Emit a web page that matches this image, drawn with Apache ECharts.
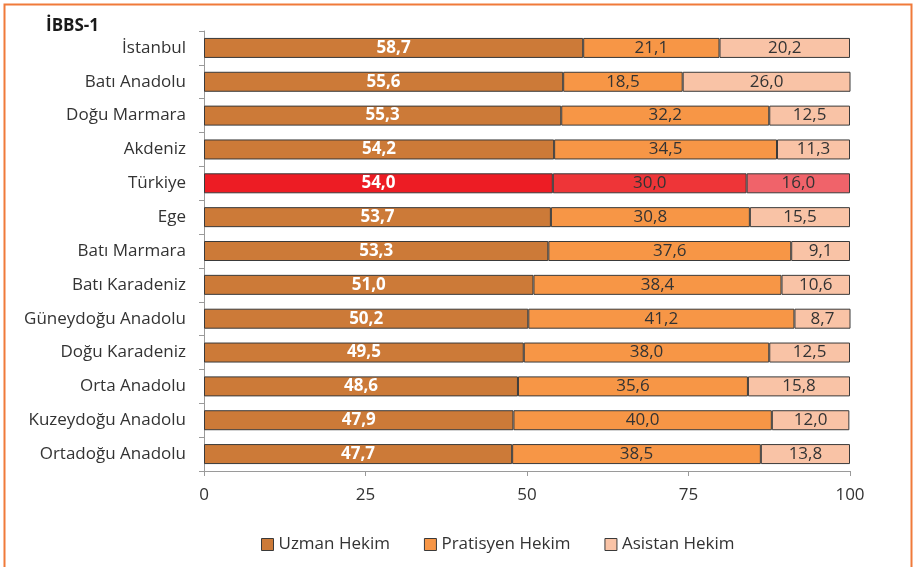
<!DOCTYPE html>
<html>
<head>
<meta charset="utf-8">
<script src="https://cdn.jsdelivr.net/npm/echarts@6/dist/echarts.min.js"></script>
<style>
  html, body { margin: 0; padding: 0; background: #fff; }
  #chart { width: 914px; height: 567px; }
</style>
</head>
<body>
<div id="chart"></div>
<script>
// Regions (İBBS-1), top to bottom
const regions = [
  'İstanbul', 'Batı Anadolu', 'Doğu Marmara', 'Akdeniz', 'Türkiye', 'Ege',
  'Batı Marmara', 'Batı Karadeniz', 'Güneydoğu Anadolu', 'Doğu Karadeniz',
  'Orta Anadolu', 'Kuzeydoğu Anadolu', 'Ortadoğu Anadolu'
];
// Share of physicians (%)
const uzman     = [58.7, 55.6, 55.3, 54.2, 54.0, 53.7, 53.3, 51.0, 50.2, 49.5, 48.6, 47.9, 47.7];
const pratisyen = [21.1, 18.5, 32.2, 34.5, 30.0, 30.8, 37.6, 38.4, 41.2, 38.0, 35.6, 40.0, 38.5];
const asistan   = [20.2, 26.0, 12.5, 11.3, 16.0, 15.5, 9.1, 10.6, 8.7, 12.5, 15.8, 12.0, 13.8];
const xTicks = [0, 25, 50, 75, 100];

const FONT = 'Open Sans';
const highlight = 'Türkiye';

function series(name, values, color, hiColor, labelStyle) {
  return {
    name: name,
    type: 'bar',
    stack: 'total',
    barWidth: 20,
    itemStyle: { color: color, borderColor: '#3a3a3a', borderWidth: 1 },
    label: Object.assign({
      show: true,
      position: 'inside',
      fontFamily: FONT,
      fontSize: 17,
      formatter: p => p.value.toFixed(1).replace('.', ',')
    }, labelStyle),
    data: values.map((v, i) => regions[i] === highlight
      ? { value: v, itemStyle: { color: hiColor } }
      : v)
  };
}

const chart = echarts.init(document.getElementById('chart'), null, { renderer: 'canvas' });
chart.setOption({
  animation: false,
  textStyle: { fontFamily: FONT },
  graphic: [
    { type: 'rect', shape: { x: 4.5, y: 4.5, width: 907, height: 600 },
      style: { fill: 'none', stroke: '#F07A3A', lineWidth: 2 } },
    { type: 'text', left: 46, top: 18,
      style: { text: 'İBBS-1', font: 'bold 17px "' + FONT + '"', fill: '#1a1a1a' } }
  ],
  legend: {
    bottom: 9,
    left: 256,
    itemWidth: 12,
    itemHeight: 12,
    itemGap: 34,
    icon: 'rect',
    textStyle: { fontFamily: FONT, fontSize: 17, color: '#333' },
    itemStyle: { borderColor: '#3a3a3a', borderWidth: 1 },
    data: ['Uzman Hekim', 'Pratisyen Hekim', 'Asistan Hekim']
  },
  grid: { left: 204, right: 64, top: 31, bottom: 96, containLabel: false },
  xAxis: {
    type: 'value',
    min: 0, max: 100, interval: 25,
    axisLine: { show: true, lineStyle: { color: '#9a9a9a' } },
    axisTick: { show: true, length: 5, lineStyle: { color: '#9a9a9a' } },
    splitLine: { show: false },
    axisLabel: {
      fontFamily: FONT, fontSize: 17, color: '#333', margin: 16,
      formatter: v => xTicks.includes(v) ? String(v) : ''
    }
  },
  yAxis: {
    type: 'category',
    inverse: true,
    data: regions,
    axisLine: { show: true, lineStyle: { color: '#9a9a9a' } },
    axisTick: { show: true, length: 5, lineStyle: { color: '#9a9a9a' } },
    axisLabel: { fontFamily: FONT, fontSize: 17, color: '#333', margin: 18 }
  },
  series: [
    series('Uzman Hekim', uzman, '#CC7A38', '#ED1C24', { color: '#fff', fontWeight: 'bold' }),
    series('Pratisyen Hekim', pratisyen, '#F79646', '#EE3538', { color: '#333' }),
    series('Asistan Hekim', asistan, '#F9C3A6', '#F0636A', { color: '#333' })
  ]
});
</script>
</body>
</html>
